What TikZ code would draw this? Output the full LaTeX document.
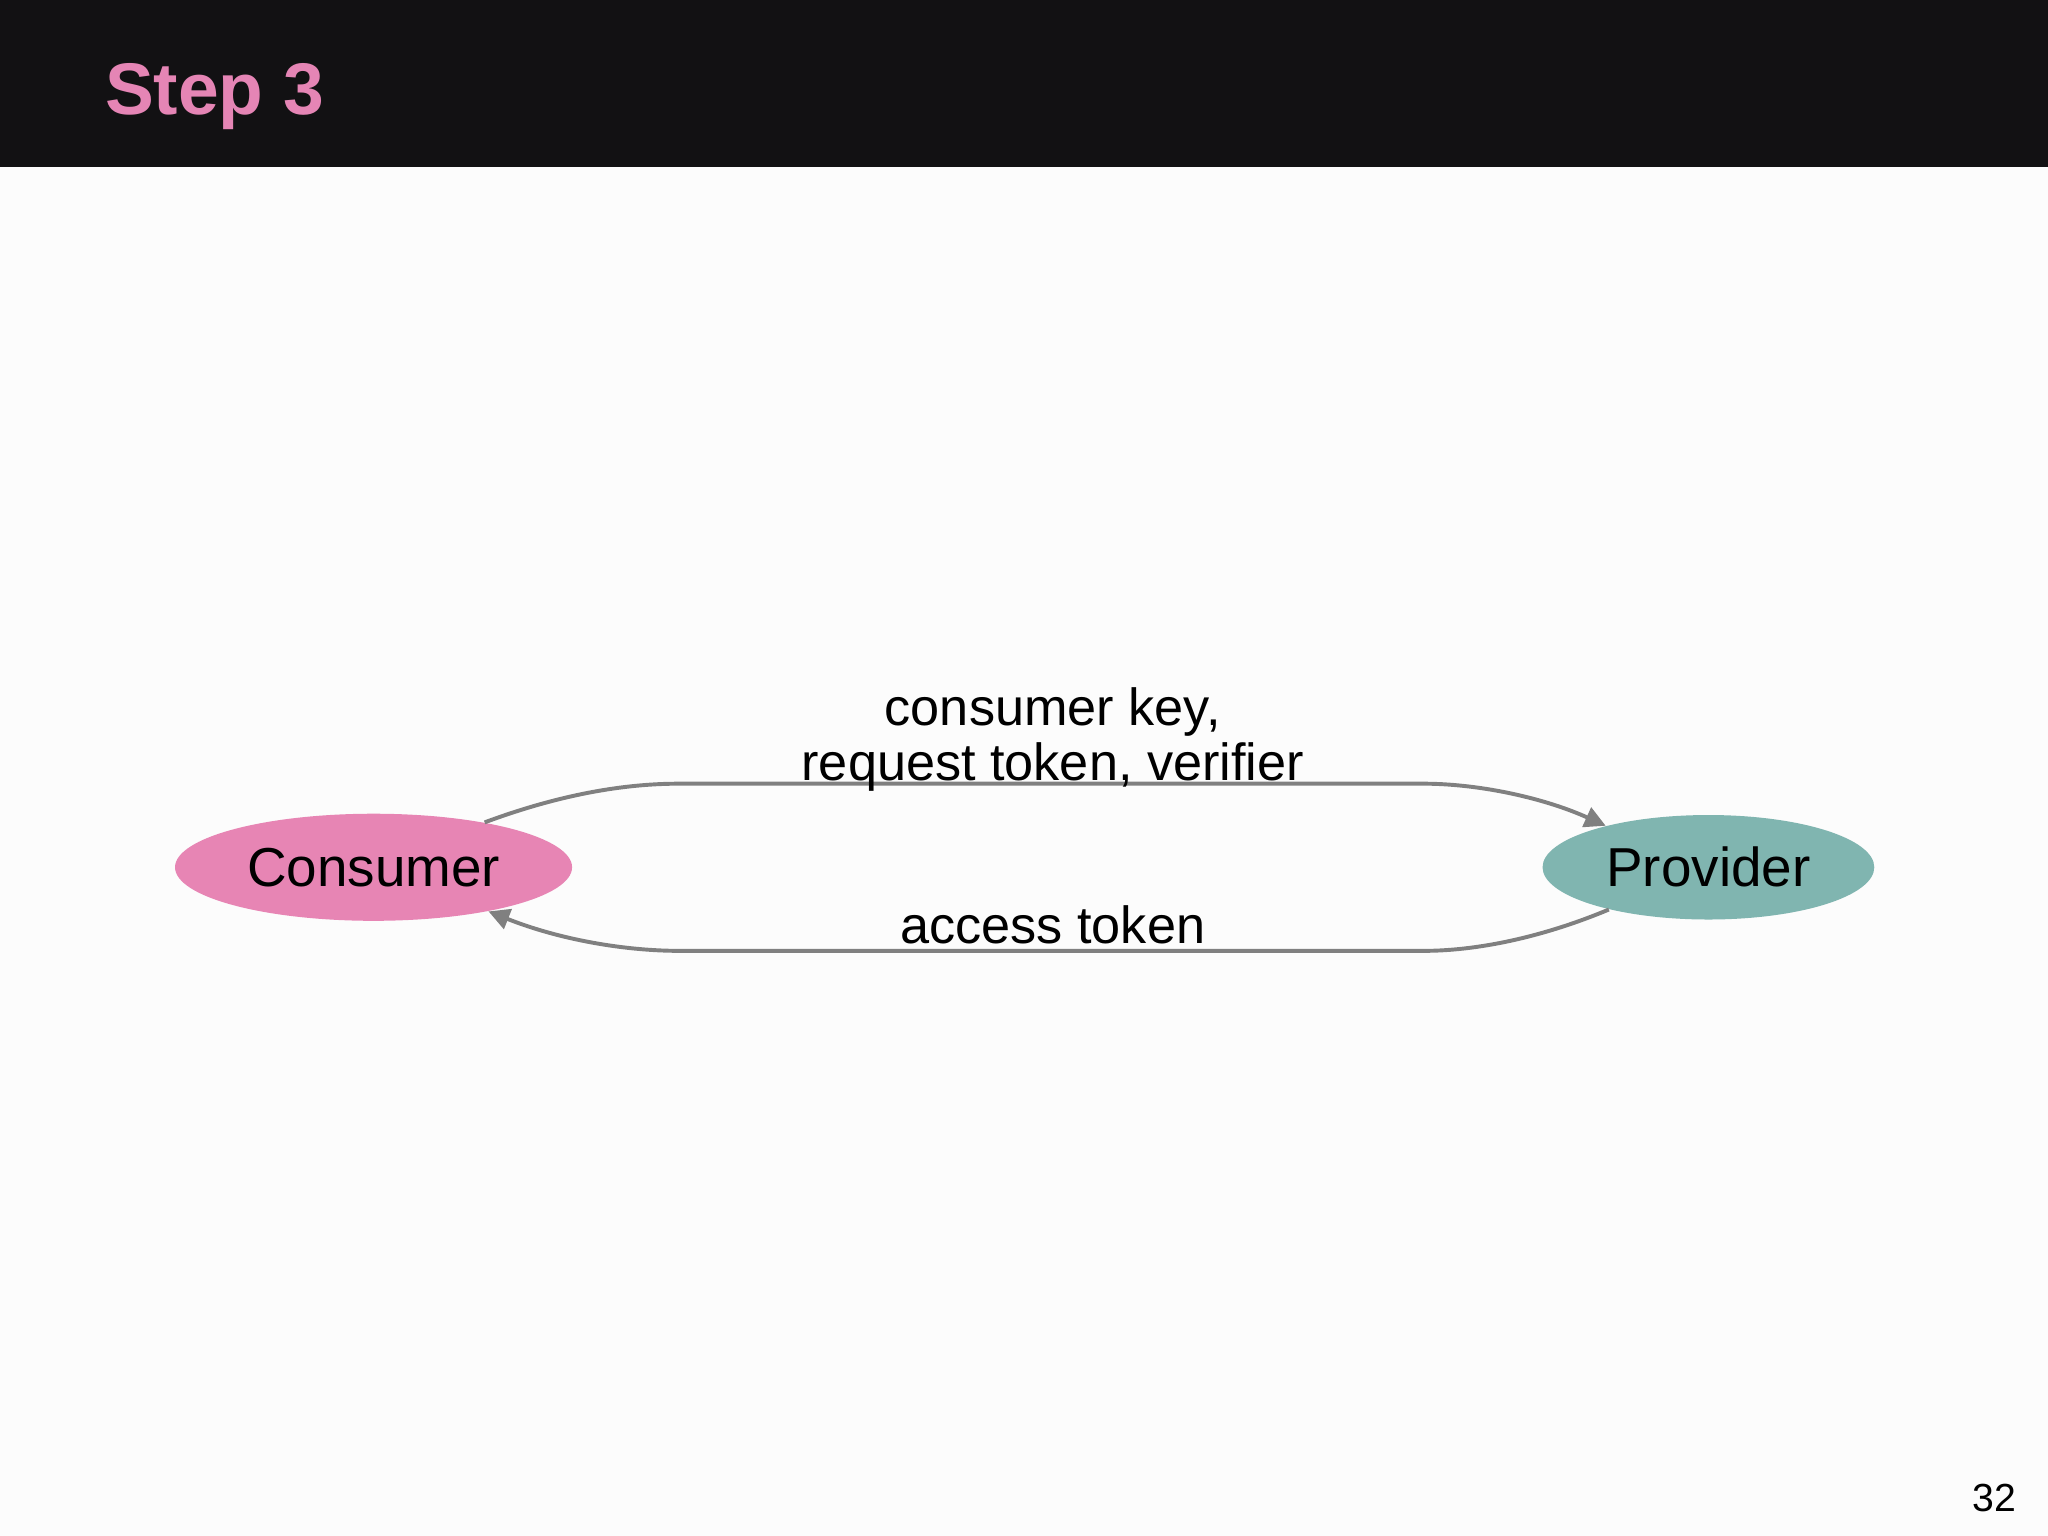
\documentclass[tikz,border=0pt]{standalone}
\usepackage{fontspec}
\setmainfont{Liberation Sans}
\usetikzlibrary{shapes.geometric,arrows.meta}
\definecolor{pinkc}{HTML}{E785B4}
\definecolor{tealc}{HTML}{80B5B0}
\definecolor{hdr}{HTML}{121113}
\definecolor{titlec}{HTML}{E585B5}
\definecolor{arr}{HTML}{808080}
\tikzset{
 party/.style={ellipse,inner sep=0pt,font=\fontsize{21}{24}\selectfont},
 conn/.style={draw=arr,line width=1.5pt,-{Triangle[length=8pt,width=8pt]}},
 lbl/.style={font=\fontsize{20}{21}\selectfont,align=center,inner sep=0pt}
}
\begin{document}
\begin{tikzpicture}[x=0.5pt,y=-0.5pt]
\useasboundingbox (0,0) rectangle (1568,1176);
\fill[white!99!black] (0,0) rectangle (1568,1176);
\fill[hdr] (0,0) rectangle (1568,128);
\node[anchor=base west,inner sep=0pt,text=titlec,font=\fontsize{28}{30}\selectfont\bfseries] (title) at (80,88) {Step 3};
\node[party,fill=pinkc,minimum width=152pt,minimum height=41pt] (c) at (286,664) {Consumer};
\node[party,fill=tealc,minimum width=127pt,minimum height=40pt] (p) at (1308,664) {Provider};
\draw[conn] (c.22) .. controls (440,604) and (490,600) .. (520,600) -- (1090,600) .. controls (1130,600) and (1180,610) .. (p.158);
\draw[conn] (p.203) .. controls (1180,718) and (1130,728) .. (1090,728) -- (520,728) .. controls (480,728) and (430,720) .. (c.339);
\node[lbl] (l1) at (806,566) {consumer key,\\request token, verifier};
\node[lbl] (l2) at (806,708) {access token};
\node[font=\fontsize{15}{16}\selectfont,inner sep=0pt] (pg) at (1527,1147) {32};
\end{tikzpicture}
\end{document}
